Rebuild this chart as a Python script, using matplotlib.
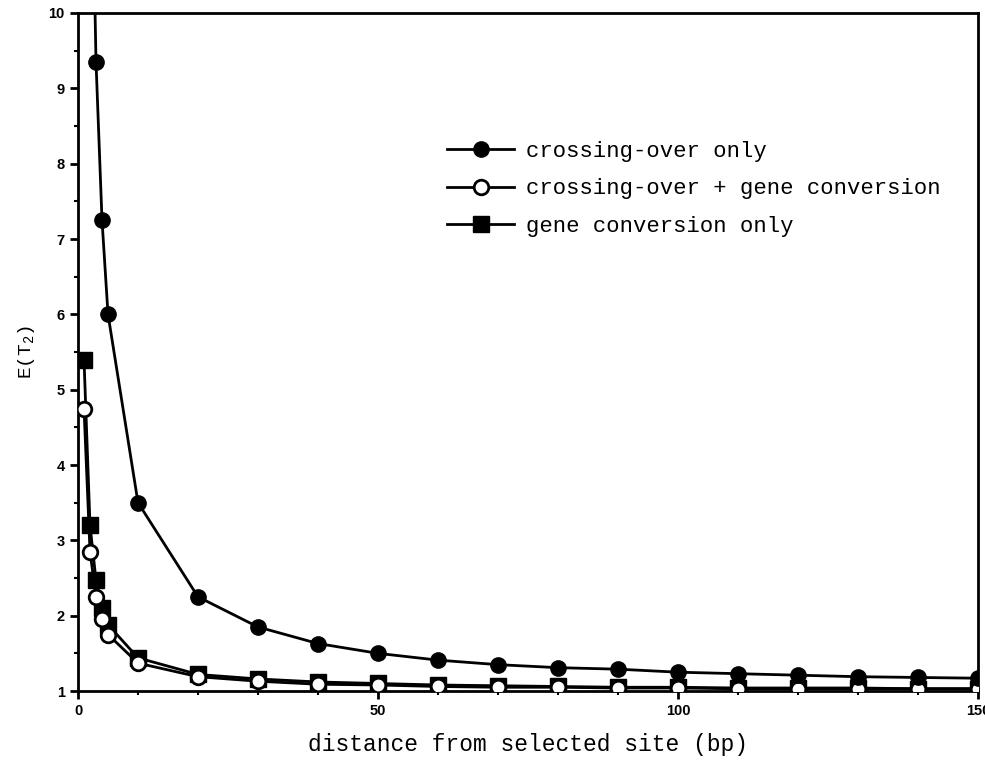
"""
plot.py - E(T2) theo khoảng cách từ vị trí được chọn
"""

import matplotlib
matplotlib.use("Agg")
import matplotlib.pyplot as plt
from matplotlib.ticker import MultipleLocator

plt.rcParams["mathtext.fontset"] = "custom"
plt.rcParams["mathtext.rm"] = "Liberation Mono"

# Dữ liệu
distance = [1, 2, 3, 4, 5, 10, 20, 30, 40, 50, 60, 70, 80, 90, 100, 110, 120, 130, 140, 150]
crossing_only = [26.0, 13.5, 9.35, 7.25, 6.0, 3.5, 2.25, 1.85, 1.63, 1.5, 1.41, 1.35,
                 1.31, 1.29, 1.25, 1.23, 1.21, 1.19, 1.18, 1.17]
crossing_gc = [4.75, 2.85, 2.25, 1.95, 1.75, 1.37, 1.19, 1.13, 1.09, 1.08, 1.06, 1.05,
               1.05, 1.04, 1.04, 1.03, 1.03, 1.03, 1.03, 1.03]
gc_only = [5.4, 3.2, 2.47, 2.1, 1.88, 1.44, 1.22, 1.16, 1.12, 1.1, 1.08, 1.07,
           1.06, 1.05, 1.05, 1.04, 1.04, 1.04, 1.03, 1.03]

labels = ["crossing-over only", "crossing-over + gene conversion", "gene conversion only"]

fig = plt.figure(figsize=(9.85, 7.78), dpi=100)
ax = fig.add_axes([0.0792, 0.1118, 0.9137, 0.8715])

mono = "Liberation Mono"

h1, = ax.plot(distance, crossing_only, "-o", color="black", lw=2, ms=11,
              mfc="black", mec="black", zorder=4)
h3, = ax.plot(distance, gc_only, "-s", color="black", lw=2, ms=12,
              mfc="black", mec="black", zorder=2)
h2, = ax.plot(distance, crossing_gc, "-o", color="black", lw=2, ms=10.5,
              mfc="white", mec="black", mew=2, zorder=3)

ax.set_xlim(0, 150)
ax.set_ylim(1, 10)
ax.xaxis.set_major_locator(MultipleLocator(50))
ax.xaxis.set_minor_locator(MultipleLocator(10))
ax.yaxis.set_major_locator(MultipleLocator(1))
ax.yaxis.set_minor_locator(MultipleLocator(0.5))

for sp in ax.spines.values():
    sp.set_linewidth(2)

ax.tick_params(which="major", direction="out", length=6, width=2,
               labelsize=10.5, top=False, right=False)
ax.tick_params(which="minor", direction="out", length=3, width=1.5,
               top=False, right=False)
for lbl in ax.get_xticklabels() + ax.get_yticklabels():
    lbl.set_fontfamily("Liberation Sans")
    lbl.set_fontweight("bold")

ax.set_xlabel("distance from selected site (bp)", fontfamily=mono, fontsize=16.5, labelpad=11)
ax.set_ylabel(r"$\mathrm{E(T_2)}$", fontfamily=mono, fontsize=14, labelpad=8)

ax.legend([h1, h2, h3], labels, prop={"family": mono, "size": 16},
          loc="upper left", bbox_to_anchor=(0.398, 0.828), frameon=False,
          handlelength=3.0, handletextpad=0.55, labelspacing=0.75, borderpad=0)

fig.savefig("out.png", dpi=100)
